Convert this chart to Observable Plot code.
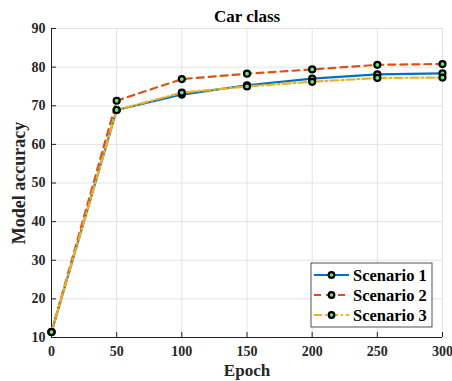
<!DOCTYPE html>
<html>
<head>
<meta charset="utf-8">
<script src="https://cdn.jsdelivr.net/npm/d3@7"></script>
<script src="https://cdn.jsdelivr.net/npm/@observablehq/plot@0.6"></script>
<style>
  html, body { margin: 0; padding: 0; background: #fff; }
  #chart { position: relative; width: 452px; height: 381px; }
  svg { font-family: "Liberation Serif", "Times New Roman", serif; }
</style>
</head>
<body>
<div id="chart"></div>
<script>
const epochs = [0, 50, 100, 150, 200, 250, 300];
const scenario1 = [11.4, 68.9, 72.9, 75.3, 77.0, 78.1, 78.4];
const scenario2 = [11.4, 71.3, 76.9, 78.3, 79.4, 80.6, 80.8];
const scenario3 = [11.4, 68.9, 73.4, 75.0, 76.2, 77.2, 77.3];
const seriesNames = ["Scenario 1", "Scenario 2", "Scenario 3"];
const seriesColors = ["#0072BD", "#D95319", "#EDB120"];
const seriesDash = [null, "7,5", "8,3,2,3"];
const xTicks = [0, 50, 100, 150, 200, 250, 300];
const yTicks = [10, 20, 30, 40, 50, 60, 70, 80, 90];
const title = "Car class";
const xLabel = "Epoch";
const yLabel = "Model accuracy";

const values = [scenario1, scenario2, scenario3];
const rows = [];
values.forEach((vals, s) => vals.forEach((v, i) => rows.push({series: seriesNames[s], epoch: epochs[i], acc: v})));

const W = 452, H = 381;
const mt = 28, mb = 44, ml = 51, mr = 10;
const pw = W - ml - mr, ph = H - mt - mb;
const markerFill = "#5CEB7A";

const lineMarks = seriesNames.map((name, s) =>
  Plot.line(rows.filter(d => d.series === name), {
    x: "epoch", y: "acc", stroke: seriesColors[s], strokeWidth: 2.2,
    strokeDasharray: seriesDash[s]
  })
);

const chart = Plot.plot({
  width: W, height: H,
  marginTop: mt, marginBottom: mb, marginLeft: ml, marginRight: mr,
  style: { fontFamily: "Liberation Serif, Times New Roman, serif", background: "#fff" },
  x: { domain: [0, 300] },
  y: { domain: [10, 90] },
  marks: [
    Plot.gridX(xTicks, { stroke: "#e3e3e3", strokeOpacity: 1 }),
    Plot.gridY(yTicks, { stroke: "#e3e3e3", strokeOpacity: 1 }),
    Plot.ruleX([0], { stroke: "#222", strokeWidth: 1 }),
    Plot.ruleY([10], { stroke: "#222", strokeWidth: 1 }),
    Plot.tickX(xTicks, { x: d => d, insetTop: ph - 5, stroke: "#222" }),
    Plot.tickY(yTicks, { y: d => d, insetRight: pw - 5, stroke: "#222" }),
    Plot.axisX(xTicks, { tickSize: 0, tickPadding: 9, fontSize: 14, fontWeight: "bold", fill: "#262626", label: null }),
    Plot.axisY(yTicks, { tickSize: 0, tickPadding: 6, fontSize: 14, fontWeight: "bold", fill: "#262626", label: null }),
    ...lineMarks,
    Plot.dot(rows, { x: "epoch", y: "acc", r: 3, fill: markerFill, stroke: "#000", strokeWidth: 2.2 }),
    Plot.text([title], { frameAnchor: "top", lineAnchor: "middle", textAnchor: "middle", dy: -11.5, fontSize: 17, fontWeight: "bold", fill: "#000" }),
    Plot.text([xLabel], { frameAnchor: "bottom", lineAnchor: "middle", textAnchor: "middle", dy: 33, fontSize: 17, fontWeight: "bold", fill: "#262626" }),
    Plot.text([yLabel], { frameAnchor: "left", lineAnchor: "middle", textAnchor: "middle", dx: -32.5, rotate: -90, fontSize: 18, fontWeight: "bold", fill: "#262626" })
  ]
});

document.getElementById("chart").appendChild(chart);

// Legend (inside the plot, bottom-right)
const svg = d3.select(chart);
const lx = 311, ly = 263, lw = 121, lh = 64;
const lg = svg.append("g").attr("class", "legend");
lg.append("rect").attr("x", lx).attr("y", ly).attr("width", lw).attr("height", lh)
  .attr("fill", "#fff").attr("stroke", "#262626").attr("stroke-width", 0.8);
seriesNames.forEach((name, s) => {
  const cy = ly + 12 + s * 20;
  lg.append("line").attr("x1", lx + 3).attr("x2", lx + 38).attr("y1", cy).attr("y2", cy)
    .attr("stroke", seriesColors[s]).attr("stroke-width", 2.2)
    .attr("stroke-dasharray", seriesDash[s]);
  lg.append("circle").attr("cx", lx + 20.5).attr("cy", cy).attr("r", 2.8)
    .attr("fill", markerFill).attr("stroke", "#000").attr("stroke-width", 2.2);
  lg.append("text").attr("x", lx + 42).attr("y", cy).attr("dy", "0.35em")
    .attr("text-anchor", "start")
    .attr("font-size", 16.5).attr("font-weight", "bold").attr("fill", "#000")
    .attr("font-family", "Liberation Serif, Times New Roman, serif")
    .text(name);
});
</script>
</body>
</html>
